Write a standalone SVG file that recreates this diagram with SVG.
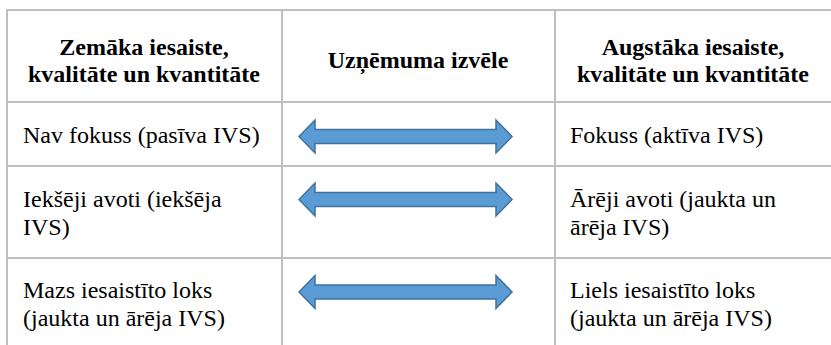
<svg xmlns="http://www.w3.org/2000/svg" width="831" height="345" viewBox="0 0 831 345" font-family="'Liberation Serif', 'Times New Roman', serif" font-size="24">
  <style>
    .grid { stroke: #bfbfbf; stroke-width: 2; fill: none; }
    .head { font-family: 'Liberation Serif', 'Times New Roman', serif; font-size: 24px; font-weight: bold; text-anchor: middle; }
    .cell { font-family: 'Liberation Serif', 'Times New Roman', serif; font-size: 24px; }
    .arrow { fill: #5b9bd5; stroke: #41719c; stroke-width: 1.5; }
  </style>

  <!-- table grid -->
  <g id="grid">
    <path class="grid" d="M6,10 H831 M6,102 H831 M6,166 H831 M6,258 H831 M7,9 V345 M282,9 V345 M555,9 V345"/>
  </g>

  <!-- header cells -->
  <g id="h-low">
    <text class="head" x="144" y="55">Zemāka iesaiste,</text>
    <text class="head" x="144" y="82">kvalitāte un kvantitāte</text>
  </g>
  <g id="h-choice">
    <text class="head" x="418" y="68">Uzņēmuma izvēle</text>
  </g>
  <g id="h-high">
    <text class="head" x="693" y="55">Augstāka iesaiste,</text>
    <text class="head" x="693" y="82">kvalitāte un kvantitāte</text>
  </g>

  <!-- body cells -->
  <g id="r1-low"><text class="cell" x="23" y="143">Nav fokuss (pasīva IVS)</text></g>
  <g id="r1-high"><text class="cell" x="570" y="143">Fokuss (aktīva IVS)</text></g>
  <g id="r2-low">
    <text class="cell" x="23" y="207">Iekšēji avoti (iekšēja</text>
    <text class="cell" x="23" y="235">IVS)</text>
  </g>
  <g id="r2-high">
    <text class="cell" x="570" y="207">Ārēji avoti (jaukta un</text>
    <text class="cell" x="570" y="235">ārēja IVS)</text>
  </g>
  <g id="r3-low">
    <text class="cell" x="23" y="298">Mazs iesaistīto loks</text>
    <text class="cell" x="23" y="326">(jaukta un ārēja IVS)</text>
  </g>
  <g id="r3-high">
    <text class="cell" x="570" y="298">Liels iesaistīto loks</text>
    <text class="cell" x="570" y="326">(jaukta un ārēja IVS)</text>
  </g>

  <!-- connectors: two-way block arrows between the columns -->
  <g id="connectors">
    <path class="arrow" d="M299,136.5 L315,120 L315,129.5 L496,129.5 L496,120 L512,136.5 L496,153 L496,143.5 L315,143.5 L315,153 Z"/>
    <path class="arrow" d="M299,199.5 L315,183 L315,192.5 L496,192.5 L496,183 L512,199.5 L496,216 L496,206.5 L315,206.5 L315,216 Z"/>
    <path class="arrow" d="M299,292 L315,275.5 L315,285 L496,285 L496,275.5 L512,292 L496,308.5 L496,299 L315,299 L315,308.5 Z"/>
  </g>
</svg>
